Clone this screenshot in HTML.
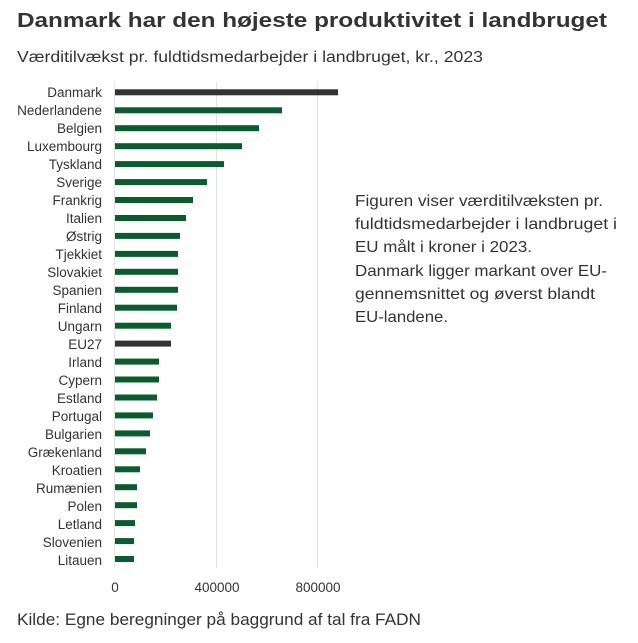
<!DOCTYPE html>
<html><head><meta charset="utf-8"><style>
html,body{margin:0;padding:0;background:#fff;}
svg{display:block;}
text{font-family:"Liberation Sans",sans-serif;fill:#333;}
</style></head><body>
<svg width="638" height="643" viewBox="0 0 638 643">
<text x="17" y="27" font-size="20" font-weight="bold" textLength="590" lengthAdjust="spacingAndGlyphs">Danmark har den højeste produktivitet i landbruget</text>
<text x="17" y="62" font-size="15.5" textLength="466" lengthAdjust="spacingAndGlyphs">Værditilvækst pr. fuldtidsmedarbejder i landbruget, kr., 2023</text>
<g stroke="#e3e3e3" stroke-width="1">
<line x1="114.5" y1="82" x2="114.5" y2="568"/>
<line x1="216.5" y1="82" x2="216.5" y2="568"/>
<line x1="317.5" y1="82" x2="317.5" y2="568"/>
</g>
<g font-size="13.5" text-anchor="middle">
<text x="115" y="592">0</text>
<text x="217" y="592">400000</text>
<text x="318" y="592">800000</text>
</g>
<g font-size="16">
<text x="355" y="206" textLength="248" lengthAdjust="spacingAndGlyphs">Figuren viser værditilvæksten pr.</text>
<text x="355" y="229" textLength="262" lengthAdjust="spacingAndGlyphs">fuldtidsmedarbejder i landbruget i</text>
<text x="355" y="252" textLength="177" lengthAdjust="spacingAndGlyphs">EU målt i kroner i 2023.</text>
<text x="355" y="276" textLength="252" lengthAdjust="spacingAndGlyphs">Danmark ligger markant over EU-</text>
<text x="355" y="299" textLength="240" lengthAdjust="spacingAndGlyphs">gennemsnittet og øverst blandt</text>
<text x="355" y="322" textLength="93" lengthAdjust="spacingAndGlyphs">EU-landene.</text>
</g>
<text x="17" y="625" font-size="16.5" textLength="404" lengthAdjust="spacingAndGlyphs">Kilde: Egne beregninger på baggrund af tal fra FADN</text>
<g font-size="13.5" text-anchor="end">
<text x="102" y="97">Danmark</text><rect x="115" y="89.3" width="223" height="6" fill="#333"/>
<text x="102" y="115">Nederlandene</text><rect x="115" y="107.3" width="167" height="6" fill="#0a5c2e"/>
<text x="102" y="133">Belgien</text><rect x="115" y="125.2" width="144" height="6" fill="#0a5c2e"/>
<text x="102" y="151">Luxembourg</text><rect x="115" y="143.2" width="127" height="6" fill="#0a5c2e"/>
<text x="102" y="169">Tyskland</text><rect x="115" y="161.1" width="109" height="6" fill="#0a5c2e"/>
<text x="102" y="187">Sverige</text><rect x="115" y="179.1" width="92" height="6" fill="#0a5c2e"/>
<text x="102" y="205">Frankrig</text><rect x="115" y="197.0" width="78" height="6" fill="#0a5c2e"/>
<text x="102" y="223">Italien</text><rect x="115" y="215.0" width="71" height="6" fill="#0a5c2e"/>
<text x="102" y="241">Østrig</text><rect x="115" y="232.9" width="65" height="6" fill="#0a5c2e"/>
<text x="102" y="259">Tjekkiet</text><rect x="115" y="250.9" width="63" height="6" fill="#0a5c2e"/>
<text x="102" y="277">Slovakiet</text><rect x="115" y="268.8" width="63" height="6" fill="#0a5c2e"/>
<text x="102" y="295">Spanien</text><rect x="115" y="286.8" width="63" height="6" fill="#0a5c2e"/>
<text x="102" y="313">Finland</text><rect x="115" y="304.7" width="62" height="6" fill="#0a5c2e"/>
<text x="102" y="331">Ungarn</text><rect x="115" y="322.7" width="56" height="6" fill="#0a5c2e"/>
<text x="102" y="349">EU27</text><rect x="115" y="340.6" width="56" height="6" fill="#333"/>
<text x="102" y="367">Irland</text><rect x="115" y="358.6" width="44" height="6" fill="#0a5c2e"/>
<text x="102" y="385">Cypern</text><rect x="115" y="376.5" width="44" height="6" fill="#0a5c2e"/>
<text x="102" y="403">Estland</text><rect x="115" y="394.5" width="42" height="6" fill="#0a5c2e"/>
<text x="102" y="421">Portugal</text><rect x="115" y="412.4" width="38" height="6" fill="#0a5c2e"/>
<text x="102" y="439">Bulgarien</text><rect x="115" y="430.4" width="35" height="6" fill="#0a5c2e"/>
<text x="102" y="457">Grækenland</text><rect x="115" y="448.3" width="31" height="6" fill="#0a5c2e"/>
<text x="102" y="475">Kroatien</text><rect x="115" y="466.3" width="25" height="6" fill="#0a5c2e"/>
<text x="102" y="493">Rumænien</text><rect x="115" y="484.2" width="22" height="6" fill="#0a5c2e"/>
<text x="102" y="511">Polen</text><rect x="115" y="502.2" width="22" height="6" fill="#0a5c2e"/>
<text x="102" y="529">Letland</text><rect x="115" y="520.1" width="20" height="6" fill="#0a5c2e"/>
<text x="102" y="547">Slovenien</text><rect x="115" y="538.1" width="19" height="6" fill="#0a5c2e"/>
<text x="102" y="565">Litauen</text><rect x="115" y="556.0" width="19" height="6" fill="#0a5c2e"/>
</g>
</svg>
</body></html>
